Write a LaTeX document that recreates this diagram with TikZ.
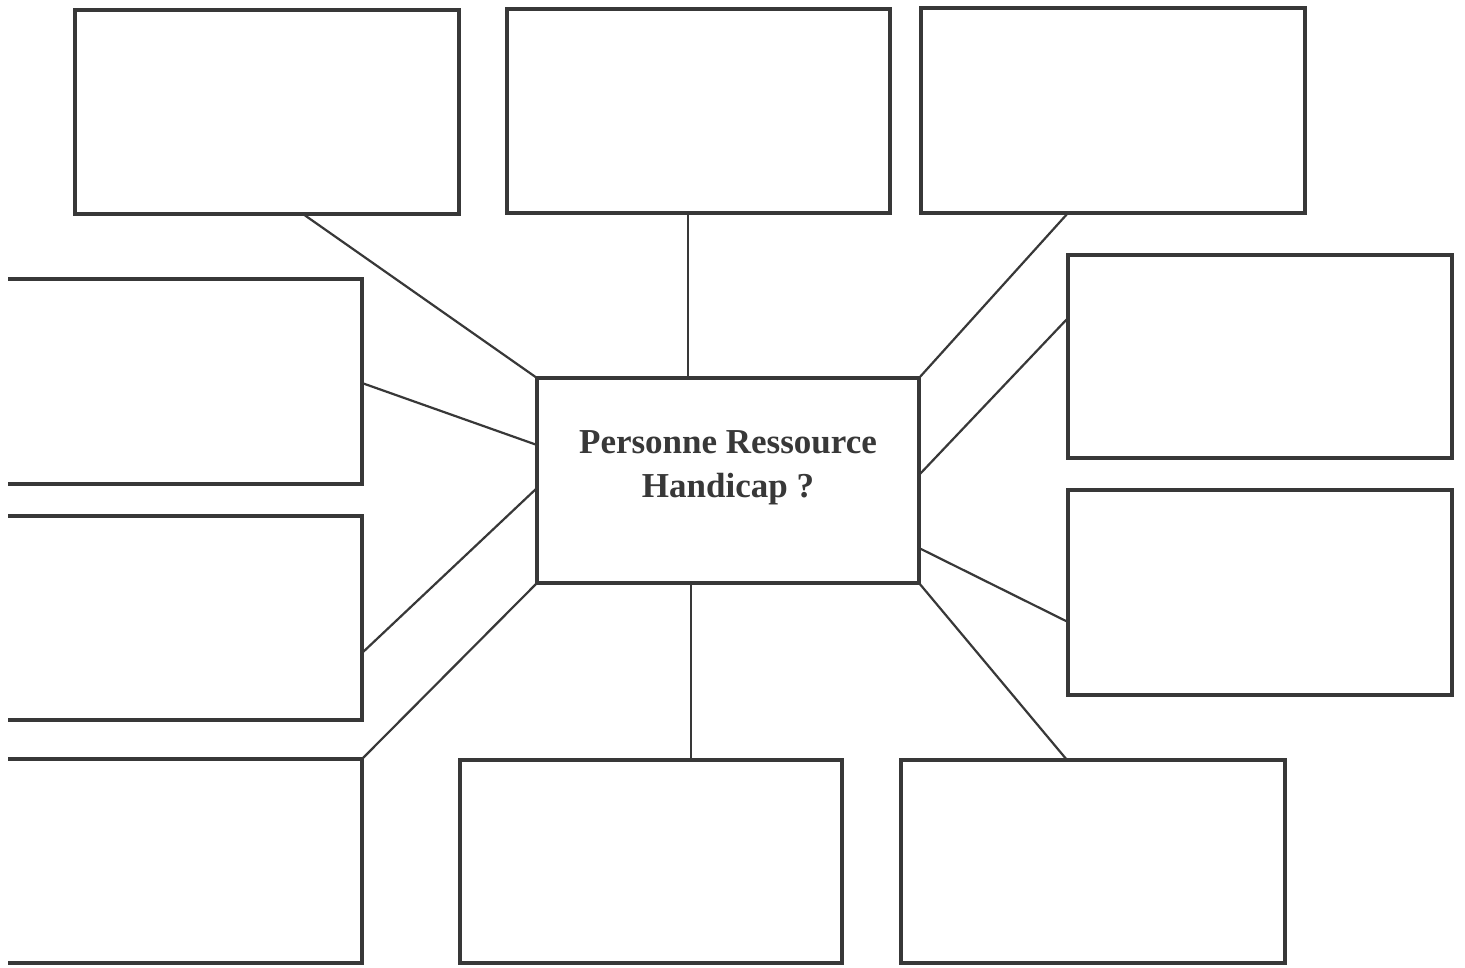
\documentclass[tikz,border=0pt]{standalone}
\usepackage{fontspec}
\setmainfont{Liberation Serif}
\begin{document}
\begin{tikzpicture}[x=1pt,y=-1pt,
  ink/.style={color=black!78},
  card/.style={ink, draw, line width=4pt, rectangle, inner sep=0pt, outer sep=0pt, line join=miter},
  opencard/.style={rectangle, inner sep=0pt, outer sep=0pt},
  openedge/.style={ink, line width=4pt, line join=miter},
  spoke/.style={ink, line width=2.2pt, line cap=round},
  hubtext/.style={ink, anchor=base, inner sep=0pt, font=\fontsize{35}{44}\selectfont\bfseries}]

  \fill[white] (0,0) rectangle (1465,967);
  \useasboundingbox (0,0) rectangle (1465,967);

  % central box
  \node[card, minimum width=382pt, minimum height=205pt] (hub) at (728,480.5) {};
  \node[hubtext] (hubone) at ([yshift=-75pt]hub.north) {Personne Ressource};
  \node[hubtext] (hubtwo) at ([yshift=-119pt]hub.north) {Handicap ?};

  % top row
  \node[card, minimum width=384pt, minimum height=204pt] (tl) at (267,112) {};
  \node[card, minimum width=383pt, minimum height=204pt] (tm) at (698.5,111) {};
  \node[card, minimum width=384pt, minimum height=205pt] (tr) at (1113,110.5) {};

  % right column
  \node[card, minimum width=384pt, minimum height=203pt] (ru) at (1260,356.5) {};
  \node[card, minimum width=384pt, minimum height=205pt] (rl) at (1260,592.5) {};

  % bottom row
  \node[card, minimum width=384pt, minimum height=203pt] (br) at (1093,861.5) {};
  \node[card, minimum width=382pt, minimum height=203pt] (bm) at (651,861.5) {};

  % left column: boxes running off the left edge
  \node[opencard, minimum width=354pt, minimum height=205pt] (lt) at (185,381.5) {};
  \node[opencard, minimum width=354pt, minimum height=204pt] (lm) at (185,618) {};
  \node[opencard, minimum width=354pt, minimum height=204pt] (lb) at (185,861) {};
  \foreach \b in {lt,lm,lb}
    \draw[openedge] (\b.north west) -- (\b.north east) -- (\b.south east) -- (\b.south west);

  % spokes from the central box
  \draw[spoke] ([xshift=228pt]tl.south west) -- (hub.north west);
  \draw[spoke] ([xshift=181pt]tm.south west) -- ([xshift=151pt]hub.north west);
  \draw[spoke] ([xshift=147pt]tr.south west) -- (hub.north east);
  \draw[spoke] ([yshift=-63pt]ru.north west) -- ([yshift=-97pt]hub.north east);
  \draw[spoke] ([yshift=-132pt]rl.north west) -- ([yshift=-170pt]hub.north east);
  \draw[spoke] (hub.south east) -- ([xshift=166pt]br.north west);
  \draw[spoke] ([xshift=154pt]hub.south west) -- ([xshift=231pt]bm.north west);
  \draw[spoke] (hub.south west) -- (lb.north east);
  \draw[spoke] ([yshift=-110pt]hub.north west) -- ([yshift=-137pt]lm.north east);
  \draw[spoke] ([yshift=-67pt]hub.north west) -- ([yshift=-104pt]lt.north east);
\end{tikzpicture}
\end{document}
